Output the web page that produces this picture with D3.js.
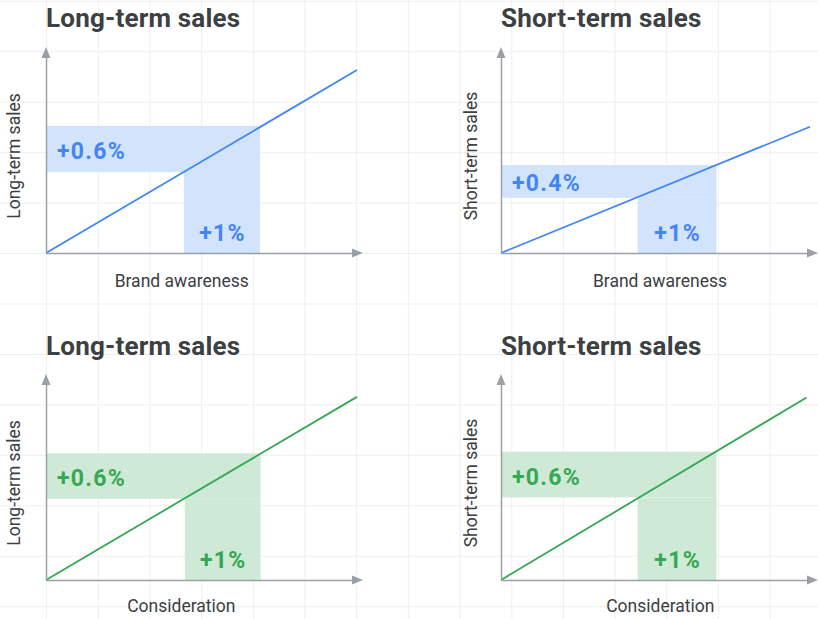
<!DOCTYPE html>
<html>
<head>
<meta charset="utf-8">
<script src="https://cdn.jsdelivr.net/npm/d3@7"></script>
<style>
  html, body { margin: 0; padding: 0; background: #ffffff; }
  svg { display: block; }
</style>
</head>
<body>
<svg id="chart" width="818" height="619"></svg>
<script>
// ---------- DATA ----------
const panelTitles   = ["Long-term sales", "Short-term sales", "Long-term sales", "Short-term sales"];
const yAxisLabels   = ["Long-term sales", "Short-term sales", "Long-term sales", "Short-term sales"];
const xAxisLabels   = ["Brand awareness", "Brand awareness", "Consideration", "Consideration"];
const driverLabels  = ["+1%", "+1%", "+1%", "+1%"];
const responseLabels = ["+0.6%", "+0.4%", "+0.6%", "+0.6%"];
const themes        = ["blue", "blue", "green", "green"];
// line end point (units, axes run 0..100)
const lineEndX      = [98.1, 97.5, 98.1, 96.4];
const lineEndY      = [88.8, 61.3, 88.9, 88.6];
// driver (+1%) band on x axis
const driverStart   = [43.5, 43.1, 43.8, 43.1];
const driverEnd     = [67.5, 68.0, 67.7, 68.0];
// response band on y axis
const responseLow   = [39.3, 26.8, 39.4, 40.1];
const responseHigh  = [61.7, 42.7, 61.5, 62.3];

// ---------- LAYOUT / STYLE ----------
const W = 818, H = 619;
const layout = [
  { ox: 46,  oy: 253, titleY: 27,  yLabX: 20,  xLabCx: 181.7, xLabY: 287 },
  { ox: 501, oy: 253, titleY: 27,  yLabX: 477, xLabCx: 660,   xLabY: 287 },
  { ox: 46,  oy: 580, titleY: 355, yLabX: 20,  xLabCx: 181.3, xLabY: 612 },
  { ox: 501, oy: 580, titleY: 355, yLabX: 477, xLabCx: 660.3, xLabY: 612 }
];
const xLen = 317, yLen = 206;
const palette = {
  blue:  { line: "#4285f4", fill: "#d2e3fc", text: "#4285f4" },
  green: { line: "#34a853", fill: "#ceead6", text: "#34a853" }
};
const axisColor = "#9aa0a6";
const textColor = "#3c4043";
const FONT = "Roboto, 'Noto Sans', Arial, sans-serif";

const svg = d3.select("#chart");

// background grid
const grid = svg.append("g");
d3.range(-5, W + 10, 51.67).forEach(x => {
  grid.append("line").attr("x1", x).attr("x2", x).attr("y1", 0).attr("y2", H)
    .attr("stroke", "#efefef").attr("stroke-width", 1);
});
d3.range(1.3, H + 10, 50.45).forEach(y => {
  grid.append("line").attr("y1", y).attr("y2", y).attr("x1", 0).attr("x2", W)
    .attr("stroke", "#efefef").attr("stroke-width", 1);
});

panelTitles.forEach((title, i) => {
  const L = layout[i];
  const col = palette[themes[i]];
  const x = d3.scaleLinear().domain([0, 100]).range([L.ox, L.ox + xLen]);
  const y = d3.scaleLinear().domain([0, 100]).range([L.oy, L.oy - yLen]);
  const g = svg.append("g");

  // bands
  g.append("rect")
    .attr("x", x(0)).attr("y", y(responseHigh[i]))
    .attr("width", x(driverEnd[i]) - x(0))
    .attr("height", y(responseLow[i]) - y(responseHigh[i]))
    .attr("fill", col.fill);
  g.append("rect")
    .attr("x", x(driverStart[i])).attr("y", y(responseLow[i]))
    .attr("width", x(driverEnd[i]) - x(driverStart[i]))
    .attr("height", y(0) - y(responseLow[i]))
    .attr("fill", col.fill);

  // band labels
  g.append("text")
    .attr("x", x(0) + 11)
    .attr("y", (y(responseLow[i]) + y(responseHigh[i])) / 2 + 10)
    .attr("font-family", FONT).attr("font-weight", 700).attr("font-size", 23)
    .attr("letter-spacing", 1.3)
    .attr("fill", col.text)
    .text(responseLabels[i]);
  g.append("text")
    .attr("x", (x(driverStart[i]) + x(driverEnd[i])) / 2 + 0.6)
    .attr("y", y(0) - 12.5)
    .attr("text-anchor", "middle")
    .attr("font-family", FONT).attr("font-weight", 700).attr("font-size", 23)
    .attr("letter-spacing", 1.3)
    .attr("fill", col.text)
    .text(driverLabels[i]);

  // line
  const line = d3.line().x(d => x(d[0])).y(d => y(d[1]));
  g.append("path")
    .datum([[0, 0], [lineEndX[i], lineEndY[i]]])
    .attr("d", line)
    .attr("fill", "none")
    .attr("stroke", col.line)
    .attr("stroke-width", 1.8);

  // axes (no ticks)
  const xAxisScale = d3.scaleLinear().domain([0, 100]).range([L.ox, L.ox + xLen - 9]);
  const yAxisScale = d3.scaleLinear().domain([0, 100]).range([L.oy, L.oy - yLen + 9]);
  const gx = g.append("g").attr("transform", `translate(0,${L.oy})`)
    .call(d3.axisBottom(xAxisScale).ticks(0).tickSizeOuter(0));
  const gy = g.append("g").attr("transform", `translate(${L.ox},0)`)
    .call(d3.axisLeft(yAxisScale).ticks(0).tickSizeOuter(0));
  [gx, gy].forEach(a => a.select(".domain").attr("stroke", axisColor).attr("stroke-width", 1.5));

  // arrowheads
  const tx = L.ox + xLen, ty = L.oy - yLen;
  g.append("path")
    .attr("d", `M${tx},${L.oy} L${tx - 11},${L.oy - 4.5} L${tx - 11},${L.oy + 4.5} Z`)
    .attr("fill", axisColor);
  g.append("path")
    .attr("d", `M${L.ox},${ty} L${L.ox - 4.5},${ty + 11} L${L.ox + 4.5},${ty + 11} Z`)
    .attr("fill", axisColor);

  // title
  g.append("text")
    .attr("x", L.ox).attr("y", L.titleY)
    .attr("font-family", FONT).attr("font-weight", 700).attr("font-size", 26)
    .attr("letter-spacing", 0.2)
    .attr("fill", textColor)
    .text(title);

  // axis labels
  g.append("text")
    .attr("transform", `translate(${L.yLabX},${L.oy - 97}) rotate(-90)`)
    .attr("text-anchor", "middle")
    .attr("font-family", FONT).attr("font-size", 17.5)
    .attr("fill", textColor)
    .text(yAxisLabels[i]);
  g.append("text")
    .attr("x", L.xLabCx).attr("y", L.xLabY)
    .attr("text-anchor", "middle")
    .attr("font-family", FONT).attr("font-size", 17.5)
    .attr("fill", textColor)
    .text(xAxisLabels[i]);
});
</script>
</body>
</html>
